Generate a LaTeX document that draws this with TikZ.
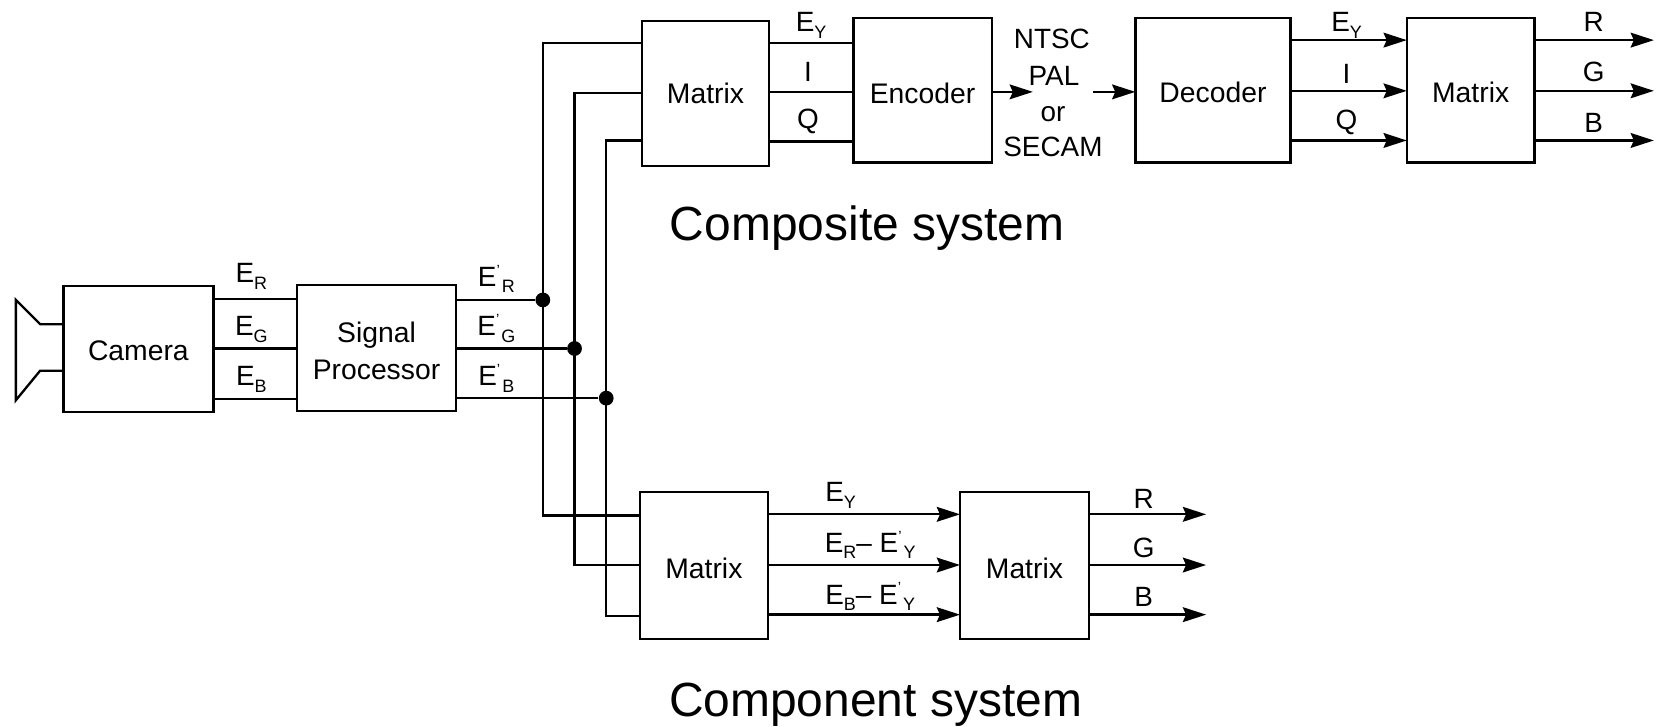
\documentclass[tikz,border=0pt]{standalone}
\usepackage{fontspec}
\setmainfont{Liberation Sans}
\usetikzlibrary{arrows.meta}
\newcommand{\Es}[1]{E\raisebox{-0.45ex}{\fontsize{8.5}{9}\selectfont #1}}
\newcommand{\Ep}[1]{E\raisebox{0.75ex}{\fontsize{7}{7}\selectfont '}\kern1pt\raisebox{-0.45ex}{\fontsize{8.5}{9}\selectfont #1}}
\newcommand{\dn}[2][-1.2pt]{\raisebox{#1}[.72em][0pt]{#2}}
\tikzset{
  x=0.5pt,y=-0.5pt,
  box/.style={draw,line width=1.1pt,rectangle,inner sep=0pt,outer sep=0pt,align=center,font=\fontsize{13.4}{17.5}\selectfont},
  lbl/.style={inner sep=0pt,font=\fontsize{13.2}{17}\selectfont},
  big/.style={inner sep=0pt,font=\fontsize{22.7}{26}\selectfont},
  wire/.style={line width=1.1pt},
  awire/.style={line width=1.1pt,-{Stealth[length=11pt,width=7pt,inset=1.5pt]}},
  dot/.style={circle,fill=black,inner sep=0pt,minimum size=7pt}
}
\begin{document}
\begin{tikzpicture}
\useasboundingbox (0,0) rectangle (1568,688);
% boxes
\node[box,minimum width=71pt,minimum height=59.5pt] (cam) at (131,330.5) {\dn[-0.8pt]{Camera}};
\node[box,minimum width=75.5pt,minimum height=59.5pt] (sig) at (356.5,329.5) {\dn[-1.5pt]{Signal}\\\dn[-1.5pt]{Processor}};
\node[box,minimum width=60pt,minimum height=68.5pt] (mt) at (668,88.5) {\dn[0pt]{Matrix}};
\node[box,minimum width=65.5pt,minimum height=68.5pt] (enc) at (873.5,85.5) {\dn[-1.2pt]{Encoder}};
\node[box,minimum width=73.5pt,minimum height=68.5pt] (dec) at (1148.5,85.5) {\dn[-0.8pt]{Decoder}};
\node[box,minimum width=60.5pt,minimum height=68.5pt] (mtr) at (1392.5,85.5) {\dn[-0.8pt]{Matrix}};
\node[box,minimum width=60.5pt,minimum height=69.5pt] (mb) at (666.5,535.5) {\dn[-1.2pt]{Matrix}};
\node[box,minimum width=61pt,minimum height=69.5pt] (mbr) at (970,535.5) {\dn[-1.2pt]{Matrix}};
% horn
\coordinate (h1) at (38,307);
\coordinate (h2) at (15,284);
\coordinate (h3) at (15,379);
\coordinate (h4) at (38,351);
\draw[wire,line join=miter] (cam.west |- h1) -- (h1) -- (h2) -- (h3) -- (h4) -- (cam.west |- h4);
% camera to processor
\draw[wire] (cam.east |- 0,283) -- (sig.west |- 0,283);
\draw[wire] (cam.east |- 0,330) -- (sig.west |- 0,330);
\draw[wire] (cam.east |- 0,378) -- (sig.west |- 0,378);
% junctions and buses
\node[dot] (jr) at (514,284) {};
\node[dot] (jg) at (544,330) {};
\node[dot] (jb) at (574,377) {};
\draw[wire] (sig.east |- jr) -- (jr);
\draw[wire] (sig.east |- jg) -- (jg);
\draw[wire] (sig.east |- jb) -- (jb);
\draw[wire] (mt.west |- 0,41) -- (jr |- 0,41) -- (jr |- 0,488) -- (mb.west |- 0,488);
\draw[wire] (mt.west |- 0,88) -- (jg |- 0,88) -- (jg |- 0,535) -- (mb.west |- 0,535);
\draw[wire] (mt.west |- 0,133) -- (jb |- 0,133) -- (jb |- 0,583) -- (mb.west |- 0,583);
% matrix to encoder
\draw[wire] (mt.east |- 0,41) -- (enc.west |- 0,41);
\draw[wire] (mt.east |- 0,87) -- (enc.west |- 0,87);
\draw[wire] (mt.east |- 0,134) -- (enc.west |- 0,134);
% standards text and arrows
\node[lbl] (ntsc) at (996,37) {NTSC};
\node[lbl] (pal) at (998,72) {PAL};
\node[lbl] (or) at (997,108) {or};
\node[lbl] (secam) at (997,139) {SECAM};
\coordinate (sa) at (978,87);
\coordinate (sb) at (1035,87);
\draw[awire] (enc.east |- sa) -- (sa);
\draw[awire] (sb) -- (dec.west |- sb);
% decoder to matrix
\draw[awire] (dec.east |- 0,38) -- (mtr.west |- 0,38);
\draw[awire] (dec.east |- 0,86) -- (mtr.west |- 0,86);
\draw[awire] (dec.east |- 0,133) -- (mtr.west |- 0,133);
% outputs top
\coordinate (otr) at (1566,38);
\coordinate (otg) at (1566,86);
\coordinate (otb) at (1566,133);
\draw[awire] (mtr.east |- otr) -- (otr);
\draw[awire] (mtr.east |- otg) -- (otg);
\draw[awire] (mtr.east |- otb) -- (otb);
% bottom matrix links
\draw[awire] (mb.east |- 0,487) -- (mbr.west |- 0,487);
\draw[awire] (mb.east |- 0,535) -- (mbr.west |- 0,535);
\draw[awire] (mb.east |- 0,582) -- (mbr.west |- 0,582);
\coordinate (obr) at (1142,487);
\coordinate (obg) at (1142,535);
\coordinate (obb) at (1142,582);
\draw[awire] (mbr.east |- obr) -- (obr);
\draw[awire] (mbr.east |- obg) -- (obg);
\draw[awire] (mbr.east |- obb) -- (obb);
% labels
\node[lbl] (l1) at (238,262) {\Es{R}};
\node[lbl] (l2) at (238,312) {\Es{G}};
\node[lbl] (l3) at (238,359) {\Es{B}};
\node[lbl] (l4) at (470,264) {\Ep{R}};
\node[lbl] (l5) at (470,311) {\Ep{G}};
\node[lbl] (l6) at (470,358) {\Ep{B}};
\node[lbl] (l7) at (768,24) {\Es{Y}};
\node[lbl] (l8) at (765,68) {I};
\node[lbl] (l9) at (765,115) {Q};
\node[lbl] (l10) at (1275,24) {\Es{Y}};
\node[lbl] (l11) at (1275,70) {I};
\node[lbl] (l12) at (1275,116) {Q};
\node[lbl] (l13) at (1509,21) {R};
\node[lbl] (l14) at (1509,68) {G};
\node[lbl] (l15) at (1509,116) {B};
\node[lbl] (l16) at (796,469) {\Es{Y}};
\node[lbl] (l17) at (824,516) {\Es{R}-- \Ep{Y}};
\node[lbl] (l18) at (824,565) {\Es{B}-- \Ep{Y}};
\node[lbl] (l19) at (1083,472) {R};
\node[lbl] (l20) at (1083,519) {G};
\node[lbl] (l21) at (1083,565) {B};
\node[big] (comp) at (821,216) {Composite system};
\node[big] (cpt) at (829,667) {Component system};
\end{tikzpicture}
\end{document}
